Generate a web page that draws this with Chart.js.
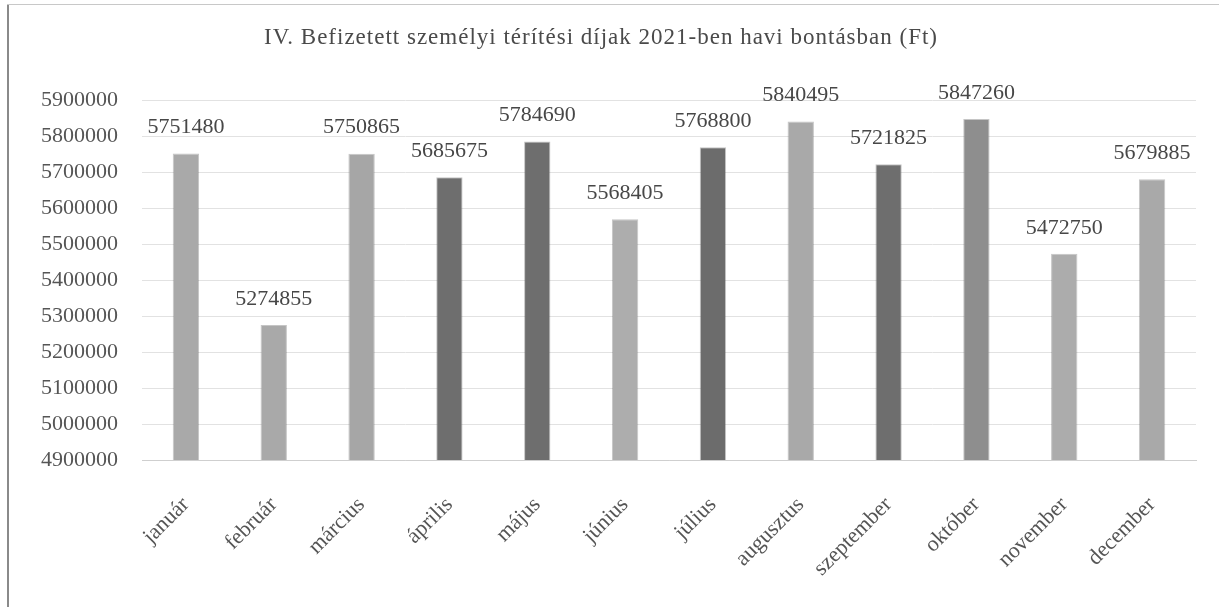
<!DOCTYPE html>
<html>
<head>
<meta charset="utf-8">
<script src="https://cdn.jsdelivr.net/npm/chart.js@4"></script>
<style>
  html, body { margin: 0; padding: 0; background: #fff; }
  #wrap { position: relative; width: 1219px; height: 607px; }
  #wrap:before { content: ""; position: absolute; left: 7px; top: 4px; bottom: 0; border-left: 2px solid #8a8a8a; }
  #wrap:after { content: ""; position: absolute; left: 7px; right: 0; top: 4px; border-top: 1px solid #c8c8c8; }
</style>
</head>
<body>
<div id="wrap"><canvas id="dijChart" width="1219" height="607"></canvas></div>
<script>
const chartTitle = "IV. Befizetett személyi térítési díjak 2021-ben havi bontásban (Ft)";
const months = ["január", "február", "március", "április", "május", "június",
  "július", "augusztus", "szeptember", "október", "november", "december"];
const payments = [5751480, 5274855, 5750865, 5685675, 5784690, 5568405,
  5768800, 5840495, 5721825, 5847260, 5472750, 5679885];
const barShades = ["#a9a9a9", "#a9a9a9", "#a6a6a6", "#6e6e6e", "#6e6e6e", "#adadad",
  "#6c6c6c", "#a9a9a9", "#6e6e6e", "#8e8e8e", "#acacac", "#a9a9a9"];
const yMin = 4900000;
const yMax = 5900000;
const yStep = 100000;

const serif = "'Liberation Serif', 'DejaVu Serif', serif";

// title drawn by hand so it can get a little letter spacing (the scan font is wide)
const wideTitle = {
  id: "wideTitle",
  afterDraw(chart) {
    const ctx = chart.ctx;
    ctx.save();
    ctx.font = "23px " + serif;
    ctx.letterSpacing = "1px";
    ctx.fillStyle = "#4a4a4a";
    ctx.textAlign = "center";
    ctx.textBaseline = "middle";
    ctx.fillText(chartTitle, 601, 38);
    ctx.restore();
  }
};

// value labels above each bar
const valueLabels = {
  id: "valueLabels",
  afterDatasetsDraw(chart) {
    const ctx = chart.ctx;
    const meta = chart.getDatasetMeta(0);
    ctx.save();
    ctx.font = "22px " + serif;
    ctx.fillStyle = "#474747";
    ctx.textAlign = "center";
    ctx.textBaseline = "middle";
    meta.data.forEach((bar, i) => {
      ctx.fillText(String(payments[i]), bar.x, bar.y - 26);
    });
    ctx.restore();
  }
};

const chartCtx = document.getElementById("dijChart").getContext("2d");

const dijChart = new Chart(chartCtx, {
  type: "bar",
  data: {
    labels: months,
    datasets: [
      {
        label: "Befizetett díj",
        data: payments,
        backgroundColor: barShades,
        borderColor: "rgba(90,90,90,0.35)",
        borderWidth: 1,
        barPercentage: 0.3,
        categoryPercentage: 1
      }
    ]
  },
  options: {
    responsive: false,
    animation: false,
    layout: {
      padding: { top: 100, left: 0, right: 23, bottom: 0 }
    },
    plugins: {
      legend: { display: false },
      tooltip: { enabled: false },
      title: { display: false }
    },
    scales: {
      y: {
        min: yMin,
        max: yMax,
        afterFit: scale => { scale.width = 142; },
        ticks: {
          stepSize: yStep,
          padding: 24,
          color: "#555",
          font: { family: serif, size: 22 },
          callback: value => String(value)
        },
        border: { display: false },
        grid: {
          color: "#e2e2e2",
          drawTicks: false
        }
      },
      x: {
        afterFit: scale => { scale.height = 147; },
        ticks: {
          minRotation: 45,
          maxRotation: 45,
          padding: 24,
          color: "#555",
          font: { family: serif, size: 22 }
        },
        border: { color: "#cfcfcf" },
        grid: { display: false }
      }
    }
  },
  plugins: [valueLabels, wideTitle]
});
</script>
</body>
</html>
